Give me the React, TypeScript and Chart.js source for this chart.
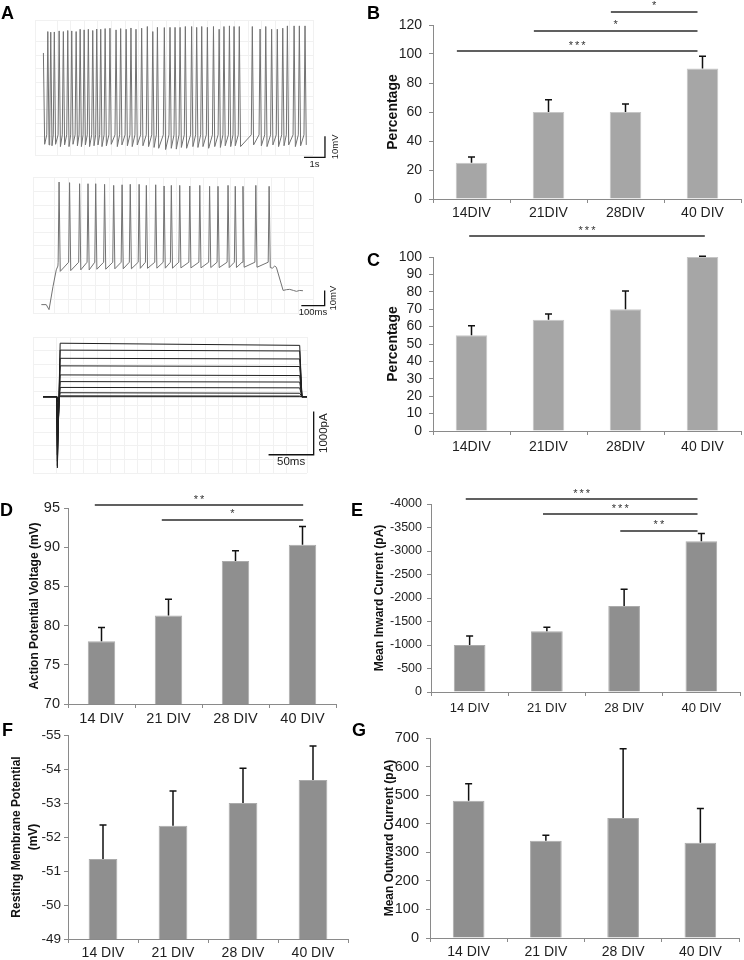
import React, { useEffect, useRef } from "react";
import { Chart, registerables } from "chart.js";

Chart.register(...registerables);

const FONT = '"Liberation Sans", Arial, Helvetica, sans-serif';
Chart.defaults.font.family = FONT;
Chart.defaults.color = "#1e1e1e";

const AXIS = "#8a8a8a";
const TXT = "#1e1e1e";

// ---------------- Panel A data ----------------
// A1: spontaneous firing (time in s, voltage in mV)
const spikeTimesA1 = [
  0.21, 0.35, 0.52, 0.75, 0.95, 1.16, 1.35, 1.56, 1.75, 1.94,
  2.14, 2.35, 2.54, 2.73, 2.94, 3.17, 3.46, 3.68, 3.94, 4.17,
  4.41, 4.68, 4.95, 5.21, 5.43, 5.76, 6.03, 6.27, 6.51, 6.76,
  7.06, 7.3, 7.54, 7.81, 8.1, 8.37, 8.6, 8.86, 9.08, 9.33,
  9.95, 10.32, 10.59, 10.87, 11.14, 11.4, 11.62, 11.94, 12.19, 12.46,
];
const spikePeaksA1 = [
  -1.8, -2.1, -2.0, -1.5, -1.8, -1.3, -1.5, -1.8, -0.7, -1.0,
  -0.7, -1.3, -0.6, -0.7, -0.4, -0.2, -1.0, -0.4, -0.7, -0.1,
  -0.7, -0.2, 0.6, -1.8, 0.2, 0.1, 0.2, 0.2, 0.2, 0.6,
  0.6, 0.2, 0.6, 0.2, 0.6, -0.7, 0.6, 0.9, 0.6, 0.6,
  0.6, -0.6, 0.6, -0.7, -0.7, -0.2, 0.9, 0.9, 0.9, 0.9,
];
const spikeTroughsA1 = [
  -55.8, -56.2, -55.5, -56.6, -55.8, -56.6, -55.5, -56.2, -56.6, -55.8,
  -56.6, -56.2, -55.8, -56.6, -56.2, -55.5, -56.6, -55.8, -56.2, -56.6,
  -55.8, -56.2, -56.6, -57.0, -57.4, -58.0, -57.4, -57.8, -57.0, -57.4,
  -56.6, -57.0, -56.6, -57.4, -56.6, -57.0, -56.2, -56.6, -56.2, -56.6,
  -55.8, -56.2, -56.6, -55.8, -56.6, -56.2, -55.8, -56.6, -56.2, -55.8,
];
const startA1: number[][] = [[0, -12], [0.06, -55.5]];
const thresholdA1 = -51;

// A2: evoked firing (time in ms, voltage in mV)
const spikeTimesA2 = [
  76, 121, 164, 200, 233, 271, 310, 346, 381, 419, 450, 490,
  526, 557, 593, 636, 679, 721, 757, 800, 831, 864, 919, 976,
];
const spikePeaksA2 = [
  -2.4, -2.8, -3.5, -3.5, -3.5, -3.9, -4.6, -4.2, -3.9, -3.9, -4.6, -4.2,
  -5.0, -4.6, -4.6, -5.0, -4.6, -5.2, -5.2, -4.6, -5.2, -5.2, -4.6, -5.2,
];
const spikeTroughsA2 = [
  -61.0, -60.5, -60.0, -60.0, -59.6, -59.6, -59.3, -59.3, -59.3, -59.0, -59.0, -58.9,
  -58.9, -58.9, -58.7, -58.7, -58.7, -58.5, -58.5, -58.5, -58.5, -58.3, -58.3, -58.5,
];
const startA2: number[][] = [[0, -82.8], [21, -82.8], [33, -86.1], [50, -70.9], [64, -60], [71, -57.5]];
const endA2: number[][] = [
  [990, -58.9], [1000, -57.5], [1007, -58.3], [1036, -73.5], [1050, -73.0],
  [1064, -72.8], [1080, -73.5], [1093, -74.1], [1107, -73.5], [1121, -73.7],
];
const thresholdA2 = -55;

// A3: voltage-clamp current family (time in ms, current in pA)
const stepTimesA3 = [0, 15.2, 15.9, 19, 284.5, 287, 293];
const sweepInwardA3 = [-1650, -1600, -1500, -1350, -1150, -900, -600, -300, -120, -40];
const sweepOnsetA3 = [1240, 1080, 890, 715, 505, 350, 215, 92, 20, 0];
const sweepEndA3 = [1190, 1060, 875, 700, 490, 340, 205, 80, 15, 0];

// ---------------- Bar panels data ----------------
const catsBC = ["14DIV", "21DIV", "28DIV", "40 DIV"];
const catsDG = ["14 DIV", "21 DIV", "28 DIV", "40 DIV"];

const valsB = [25, 60, 60, 90];
const semB = [4, 8.5, 5.5, 8.5];
const axisB = [0, 120, 20];

const valsC = [55, 64, 70, 100];
const semC = [5.5, 3.2, 10.5, 0.4];
const axisC = [0, 100, 10];

const valsD = [78.0, 81.3, 88.25, 90.3];
const semD = [1.75, 2.05, 1.3, 2.35];
const axisD = [70, 95, 5];

const valsE = [-1000, -1290, -1830, -3210];
const semE = [190, 90, 355, 160];
const axisE = [-4000, 0, 500];

const valsF = [-51.35, -52.33, -53.0, -53.68];
const semF = [1.0, 1.02, 1.02, 1.0];
const axisF = [-55, -49, 1];

const valsG = [480, 340, 420, 333];
const semG = [60, 20, 242, 120];
const axisG = [0, 700, 100];

const sigB = [
  { from: 0, to: 3, at: 102, label: "***" },
  { from: 1, to: 3, at: 115.9, label: "*" },
  { from: 2, to: 3, at: 129, label: "*" },
];
const sigC = [{ from: 0, to: 3, at: 112, label: "***" }];
const sigD = [
  { from: 0, to: 3, at: 95.38, label: "**" },
  { from: 1, to: 3, at: 93.47, label: "*" },
];
const sigE = [
  { from: 0, to: 3, at: -4106, label: "***" },
  { from: 1, to: 3, at: -3787, label: "***" },
  { from: 2, to: 3, at: -3426, label: "**" },
];

// ---------------- builders ----------------
function spikeTrace(start: number[][], times: number[], peaks: number[], troughs: number[], thr: number, pre: number, post: number, end: number[][]) {
  const pts: { x: number; y: number }[] = start.map(([x, y]) => ({ x, y }));
  times.forEach((t, i) => {
    pts.push({ x: t - pre, y: thr }, { x: t, y: peaks[i] }, { x: t + post, y: troughs[i] });
  });
  end.forEach(([x, y]) => pts.push({ x, y }));
  return pts;
}

function errorBars(sem: number[], dir: number) {
  return {
    id: "errorBars",
    afterDatasetsDraw(chart: any) {
      const { ctx } = chart;
      const ys = chart.scales.y;
      const meta = chart.getDatasetMeta(0);
      const vals = chart.data.datasets[0].data;
      ctx.save();
      ctx.strokeStyle = "#111";
      ctx.lineWidth = 1.5;
      meta.data.forEach((bar: any, i: number) => {
        const yEnd = ys.getPixelForValue(vals[i] + dir * sem[i]);
        ctx.beginPath();
        ctx.moveTo(bar.x, bar.y);
        ctx.lineTo(bar.x, yEnd);
        ctx.moveTo(bar.x - 3.5, yEnd);
        ctx.lineTo(bar.x + 3.5, yEnd);
        ctx.stroke();
      });
      ctx.restore();
    },
  };
}

function sigLines(lines: any[], fromOff: number, toOff: number) {
  return {
    id: "sigLines",
    afterDraw(chart: any) {
      const { ctx } = chart;
      const xs = chart.scales.x;
      const ys = chart.scales.y;
      const cw = xs.getPixelForValue(1) - xs.getPixelForValue(0);
      ctx.save();
      ctx.strokeStyle = "#2b2b2b";
      ctx.lineWidth = 1.5;
      ctx.fillStyle = "#333";
      ctx.font = `11px ${FONT}`;
      ctx.textAlign = "center";
      ctx.textBaseline = "alphabetic";
      (ctx as any).letterSpacing = "2px";
      lines.forEach((l) => {
        const x1 = xs.getPixelForValue(l.from) + fromOff * cw;
        const x2 = xs.getPixelForValue(l.to) + toOff * cw;
        const y = ys.getPixelForValue(l.at);
        ctx.beginPath();
        ctx.moveTo(x1, y);
        ctx.lineTo(x2, y);
        ctx.stroke();
        ctx.fillText(l.label, (x1 + x2) / 2 + 1, y - 2.5);
      });
      ctx.restore();
    },
  };
}

function scaleBar(cfg: any) {
  return {
    id: "scaleBar",
    afterDraw(chart: any) {
      const { ctx } = chart;
      const xs = chart.scales.x;
      const ys = chart.scales.y;
      const x0 = xs.getPixelForValue(cfg.x0);
      const x1 = xs.getPixelForValue(cfg.x0 + cfg.dx);
      const y0 = ys.getPixelForValue(cfg.y0);
      const y1 = ys.getPixelForValue(cfg.y0 + cfg.dy);
      ctx.save();
      ctx.strokeStyle = "#111";
      ctx.lineWidth = 1.3;
      ctx.beginPath();
      ctx.moveTo(x0, y0);
      ctx.lineTo(x1, y0);
      ctx.lineTo(x1, y1);
      ctx.stroke();
      ctx.fillStyle = "#222";
      ctx.font = `${cfg.font}px ${FONT}`;
      ctx.textAlign = "center";
      ctx.textBaseline = "middle";
      ctx.fillText(cfg.xLabel, (x0 + x1) / 2, y0 + cfg.xGap);
      ctx.translate(x1 + cfg.yGap, (y0 + y1) / 2);
      ctx.rotate(-Math.PI / 2);
      ctx.fillText(cfg.yLabel, 0, 0);
      ctx.restore();
    },
  };
}

function traceConfig(datasets: any[], s: any) {
  return {
    type: "line",
    data: { datasets },
    options: {
      responsive: false,
      animation: false,
      events: [],
      layout: { padding: s.pad },
      plugins: { legend: { display: false }, tooltip: { enabled: false } },
      elements: { point: { radius: 0 }, line: { tension: 0 } },
      scales: {
        x: {
          type: "linear",
          min: s.x[0],
          max: s.x[1],
          ticks: { display: false, stepSize: s.x[2] },
          grid: { color: "#f1f1f1", drawTicks: false, lineWidth: 1 },
          border: { display: false },
          afterFit: (sc: any) => { sc.height = 0; },
        },
        y: {
          type: "linear",
          min: s.y[0],
          max: s.y[1],
          ticks: { display: false, stepSize: s.y[2] },
          grid: { color: "#f1f1f1", drawTicks: false, lineWidth: 1 },
          border: { display: false },
          afterFit: (sc: any) => { sc.width = 0; },
        },
      },
    },
    plugins: [scaleBar(s.bar)],
  };
}

function barConfig(s: any) {
  return {
    type: "bar",
    data: {
      labels: s.labels,
      datasets: [
        {
          data: s.values,
          backgroundColor: s.color,
          borderColor: s.edge,
          borderWidth: 1,
          categoryPercentage: 1,
          barPercentage: 0.41,
        },
      ],
    },
    options: {
      responsive: false,
      animation: false,
      events: [],
      layout: { padding: { left: 0, right: s.right, top: s.top, bottom: 0 } },
      plugins: { legend: { display: false }, tooltip: { enabled: false } },
      scales: {
        x: {
          offset: true,
          grid: { offset: true, drawOnChartArea: false, color: AXIS, tickLength: 4 },
          border: { color: AXIS, width: 1 },
          ticks: { font: { size: s.labelFont }, color: TXT, padding: s.xPad, maxRotation: 0, autoSkip: false },
          afterFit: (sc: any) => { sc.height = s.xHeight; },
        },
        y: {
          min: s.axis[0],
          max: s.axis[1],
          reverse: !!s.reverse,
          ticks: {
            stepSize: s.axis[2],
            autoSkip: false,
            font: { size: s.tickFont },
            color: TXT,
            padding: s.yPad,
            callback: (v: any) => String(v),
          },
          grid: { drawOnChartArea: false, color: AXIS, tickLength: 4 },
          border: { color: AXIS, width: 1 },
          title: {
            display: true,
            text: s.title,
            color: "#111",
            font: { size: s.titleFont, weight: "bold", lineHeight: s.titleLH },
            padding: { top: s.titlePad, bottom: 0 },
          },
          afterFit: (sc: any) => { sc.width = s.yWidth; },
        },
      },
    },
    plugins: [errorBars(s.sem, s.errDir), sigLines(s.sig, s.sigFrom, s.sigTo)],
  };
}

function ChartCanvas({ make, left, top, width, height }: any) {
  const ref = useRef<HTMLCanvasElement | null>(null);
  useEffect(() => {
    const chart = new Chart(ref.current as HTMLCanvasElement, make());
    return () => chart.destroy();
  }, []);
  return (
    <canvas
      ref={ref}
      width={width}
      height={height}
      style={{ position: "absolute", left, top, width, height }}
    />
  );
}

function Letter({ text, left, top }: any) {
  return (
    <div style={{ position: "absolute", left, top, font: `bold 18px ${FONT}`, lineHeight: "18px", color: "#000" }}>
      {text}
    </div>
  );
}

const LIGHT = "#a6a6a6";
const LIGHT_EDGE = "#c6c6c6";
const DARK = "#8f8f8f";
const DARK_EDGE = "#ababab";

export default function App() {
  useEffect(() => {
    document.body.style.margin = "0";
  }, []);

  const makeA1 = () =>
    traceConfig(
      [{ data: spikeTrace(startA1, spikeTimesA1, spikePeaksA1, spikeTroughsA1, thresholdA1, 0.05, 0.06, []), borderColor: "#727272", borderWidth: 1 }],
      {
        pad: { left: 35, right: 37, top: 20, bottom: 20 },
        x: [-0.4, 12.84, 0.65],
        y: [-60.6, 3.7, 6.5],
        bar: { x0: 12.41, y0: -61.7, dx: 1, dy: 10, xLabel: "1s", yLabel: "10mV", font: 9.5, xGap: 7, yGap: 10 },
      }
    );

  const makeA2 = () =>
    traceConfig(
      [{ data: spikeTrace(startA2, spikeTimesA2, spikePeaksA2, spikeTroughsA2, thresholdA2, 4, 5, endA2), borderColor: "#727272", borderWidth: 1 }],
      {
        pad: { left: 33, right: 37, top: 7, bottom: 17 },
        x: [-35.7, 1164, 58],
        y: [-88.3, 0.9, 8.8],
        bar: { x0: 1114, y0: -83.5, dx: 100, dy: 10, xLabel: "100ms", yLabel: "10mV", font: 9.5, xGap: 6.5, yGap: 8.5 },
      }
    );

  const makeA3 = () =>
    traceConfig(
      sweepOnsetA3.map((onset, i) => ({
        data: stepTimesA3.map((t, k) => ({ x: t, y: [0, 0, sweepInwardA3[i], onset, sweepEndA3[i], 0, 0][k] })),
        borderColor: "#1f1f1f",
        borderWidth: 1,
      })),
      {
        pad: { left: 33, right: 43, top: 7, bottom: 7 },
        x: [-11.1, 292.6, 15],
        y: [-1769, 1384, 310],
        bar: { x0: 250, y0: -1346, dx: 50, dy: 1000, xLabel: "50ms", yLabel: "1000pA", font: 11.5, xGap: 7.5, yGap: 10 },
      }
    );

  const makeB = () =>
    barConfig({
      labels: catsBC, values: valsB, sem: semB, errDir: 1, axis: axisB,
      title: "Percentage", color: LIGHT, edge: LIGHT_EDGE,
      sig: sigB, sigFrom: -0.19, sigTo: -0.065,
      top: 25, right: 3, yWidth: 61, xHeight: 33,
      tickFont: 14, labelFont: 14, titleFont: 14, titleLH: 1.2, titlePad: 12.6, yPad: 7, xPad: 1.6,
    });

  const makeC = () =>
    barConfig({
      labels: catsBC, values: valsC, sem: semC, errDir: 1, axis: axisC,
      title: "Percentage", color: LIGHT, edge: LIGHT_EDGE,
      sig: sigC, sigFrom: -0.03, sigTo: 0.03,
      top: 42, right: 3, yWidth: 61, xHeight: 34,
      tickFont: 14, labelFont: 14, titleFont: 14, titleLH: 1.2, titlePad: 12.6, yPad: 7, xPad: 3.6,
    });

  const makeD = () =>
    barConfig({
      labels: catsDG, values: valsD, sem: semD, errDir: 1, axis: axisD,
      title: "Action Potential Voltage (mV)", color: DARK, edge: DARK_EDGE,
      sig: sigD, sigFrom: -0.1, sigTo: 0.01,
      top: 28, right: 14, yWidth: 68, xHeight: 28,
      tickFont: 14.5, labelFont: 14.5, titleFont: 12, titleLH: 1.2, titlePad: 27.8, yPad: 4, xPad: 2,
    });

  const makeE = () =>
    barConfig({
      labels: catsDG, values: valsE, sem: semE, errDir: -1, axis: axisE, reverse: true,
      title: "Mean Inward Current (pA)", color: DARK, edge: DARK_EDGE,
      sig: sigE, sigFrom: -0.05, sigTo: -0.05,
      top: 24, right: 4, yWidth: 61, xHeight: 40,
      tickFont: 12.5, labelFont: 13, titleFont: 12, titleLH: 1.2, titlePad: 2, yPad: 5, xPad: 4.2,
    });

  const makeF = () =>
    barConfig({
      labels: catsDG, values: valsF, sem: semF, errDir: -1, axis: axisF, reverse: true,
      title: ["Resting Membrane Potential", "(mV)"], color: DARK, edge: DARK_EDGE,
      sig: [], sigFrom: 0, sigTo: 0,
      top: 15, right: 4, yWidth: 68, xHeight: 21,
      tickFont: 13.5, labelFont: 14, titleFont: 12, titleLH: 1.35, titlePad: 8.9, yPad: 3, xPad: 1.6,
    });

  const makeG = () =>
    barConfig({
      labels: catsDG, values: valsG, sem: semG, errDir: 1, axis: axisG,
      title: "Mean Outward Current (pA)", color: DARK, edge: DARK_EDGE,
      sig: [], sigFrom: 0, sigTo: 0,
      top: 18, right: 5, yWidth: 58, xHeight: 22,
      tickFont: 14.5, labelFont: 14, titleFont: 12, titleLH: 1.2, titlePad: 10.3, yPad: 7, xPad: 1.6,
    });

  return (
    <div style={{ position: "absolute", left: 0, top: 0, width: 744, height: 960, background: "#fff", overflow: "hidden" }}>
      <ChartCanvas make={makeA1} left={0} top={0} width={350} height={175} />
      <ChartCanvas make={makeA2} left={0} top={170} width={350} height={160} />
      <ChartCanvas make={makeA3} left={0} top={330} width={350} height={150} />
      <ChartCanvas make={makeB} left={372} top={0} width={372} height={232} />
      <ChartCanvas make={makeC} left={372} top={215} width={372} height={250} />
      <ChartCanvas make={makeD} left={0} top={480} width={350} height={252} />
      <ChartCanvas make={makeE} left={370} top={480} width={374} height={252} />
      <ChartCanvas make={makeF} left={0} top={720} width={352} height={240} />
      <ChartCanvas make={makeG} left={372} top={720} width={372} height={240} />
      <Letter text="A" left={1} top={4} />
      <Letter text="B" left={367} top={4} />
      <Letter text="C" left={367} top={251} />
      <Letter text="D" left={0} top={501} />
      <Letter text="E" left={351} top={501} />
      <Letter text="F" left={2} top={721} />
      <Letter text="G" left={352} top={721} />
    </div>
  );
}
